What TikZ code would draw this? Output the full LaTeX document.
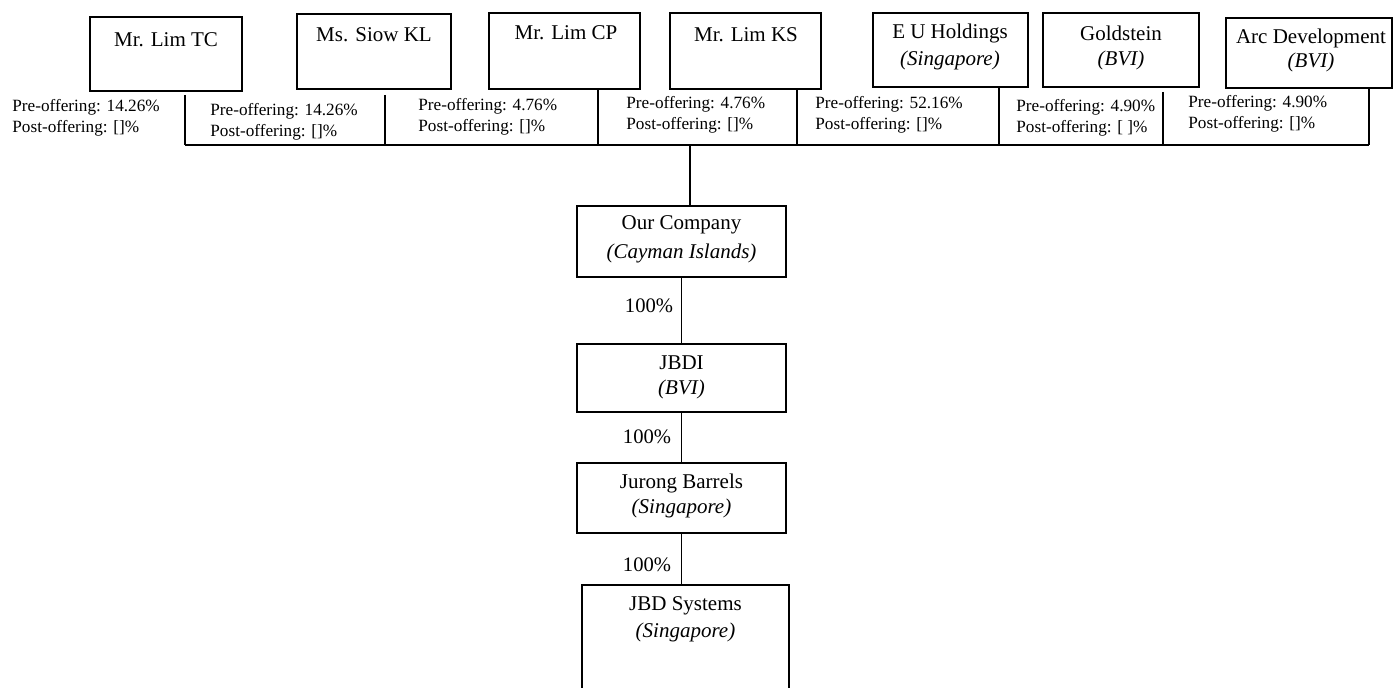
\documentclass[tikz,border=0pt]{standalone}
\usepackage{fontspec}
\setmainfont{Liberation Serif}
\begin{document}
\begin{tikzpicture}[x=0.5pt,y=-0.5pt,
  box/.style={draw, line width=0.9pt, inner sep=0pt},
  ttl/.style={font=\fontsize{10.5}{12.5}\selectfont, inner sep=0pt, align=center},
  lbl/.style={font=\fontsize{8.6}{10.6}\selectfont, align=left, anchor=west, inner sep=0pt},
  pct/.style={font=\fontsize{10.3}{12}\selectfont, inner sep=0pt},
  conn/.style={line width=0.9pt}]
\useasboundingbox (0,0) rectangle (1394,688);
\clip (0,0) rectangle (1394,688);
% top boxes
\node[box, minimum width=76pt, minimum height=37pt] (tc) at (166,54) {};
\node[box, minimum width=77pt, minimum height=37.5pt] (siow) at (374,51.5) {};
\node[box, minimum width=75.5pt, minimum height=38pt] (cp) at (564.5,51) {};
\node[box, minimum width=75.5pt, minimum height=38pt] (ks) at (745.5,51) {};
\node[box, minimum width=77.5pt, minimum height=37pt] (eu) at (950.5,50) {};
\node[box, minimum width=78pt, minimum height=37pt] (gold) at (1121,50) {};
\node[box, minimum width=83pt, minimum height=35pt] (arc) at (1309,53) {};
% titles
\node[ttl] (tct) at (166,40) {Mr. Lim TC};
\node[ttl] (siowt) at (374,35) {Ms. Siow KL};
\node[ttl] (cpt) at (566,33) {Mr. Lim CP};
\node[ttl] (kst) at (746,35) {Mr. Lim KS};
\node[ttl] (eut) at (950,33) {E U Holdings};
\node[ttl] (eus) at (950,60) {\itshape (Singapore)};
\node[ttl] (goldt) at (1121,33) {Goldstein};
\node[ttl] (golds) at (1121,60) {\itshape (BVI)};
\node[ttl] (arct) at (1311,38) {Arc Development};
\node[ttl] (arcs) at (1311,62) {\itshape (BVI)};
% labels
\node[lbl] (l1) at (12,118) {Pre-offering: 14.26\%\\Post-offering: []\%};
\node[lbl] (l2) at (210,122) {Pre-offering: 14.26\%\\Post-offering: []\%};
\node[lbl] (l3) at (418,117) {Pre-offering: 4.76\%\\Post-offering: []\%};
\node[lbl] (l4) at (626,115) {Pre-offering: 4.76\%\\Post-offering: []\%};
\node[lbl] (l5) at (815,115) {Pre-offering: 52.16\%\\Post-offering: []\%};
\node[lbl] (l6) at (1016,118) {Pre-offering: 4.90\%\\Post-offering: [ ]\%};
\node[lbl] (l7) at (1188,114) {Pre-offering: 4.90\%\\Post-offering: []\%};
% bus and verticals
\coordinate (bl) at (185,145);
\coordinate (br) at (1369,145);
\coordinate (bc) at (690,145);
\draw[conn] (bl) -- (br);
\coordinate (v1) at (185,95);
\coordinate (v2) at (385,95);
\coordinate (v6) at (1163,92);
\draw[conn] (v1) -- (v1 |- bl);
\draw[conn] (v2) -- (v2 |- bl);
\draw[conn] (cp.south -| 598,0) -- (598,145);
\draw[conn] (ks.south -| 797,0) -- (797,145);
\draw[conn] (eu.south -| 999,0) -- (999,145);
\draw[conn] (v6) -- (v6 |- bl);
\draw[conn] (arc.south -| br) -- (br);
% lower boxes
\node[box, minimum width=104.5pt, minimum height=35.5pt] (our) at (681.5,241.5) {};
\node[ttl] (ourt) at (681.5,225) {Our Company};
\node[ttl] (ours) at (681.5,253) {\itshape (Cayman Islands)};
\node[box, minimum width=104.5pt, minimum height=34pt] (jbdi) at (681.5,378) {};
\node[ttl] (jbdit) at (681.5,363) {JBDI};
\node[ttl] (jbdis) at (681.5,389) {\itshape (BVI)};
\node[box, minimum width=104.5pt, minimum height=35pt] (jur) at (681.5,498) {};
\node[ttl] (jurt) at (681.5,483) {Jurong Barrels};
\node[ttl] (jurs) at (681.5,508) {\itshape (Singapore)};
\node[box, minimum width=103.5pt, minimum height=60pt] (sys) at (685.5,645) {};
\node[ttl] (syst) at (685.5,606) {JBD Systems};
\node[ttl] (syss) at (685.5,632) {\itshape (Singapore)};
% connectors
\draw[conn] (bc) -- (bc |- our.north);
\draw[conn] (our.south) -- (jbdi.north);
\draw[conn] (jbdi.south) -- (jur.north);
\draw[conn] (jur.south) -- (jur.south |- sys.north);
\node[pct] (p1) at (649,306) {100\%};
\node[pct] (p2) at (647,437) {100\%};
\node[pct] (p3) at (647,565) {100\%};
\end{tikzpicture}
\end{document}
